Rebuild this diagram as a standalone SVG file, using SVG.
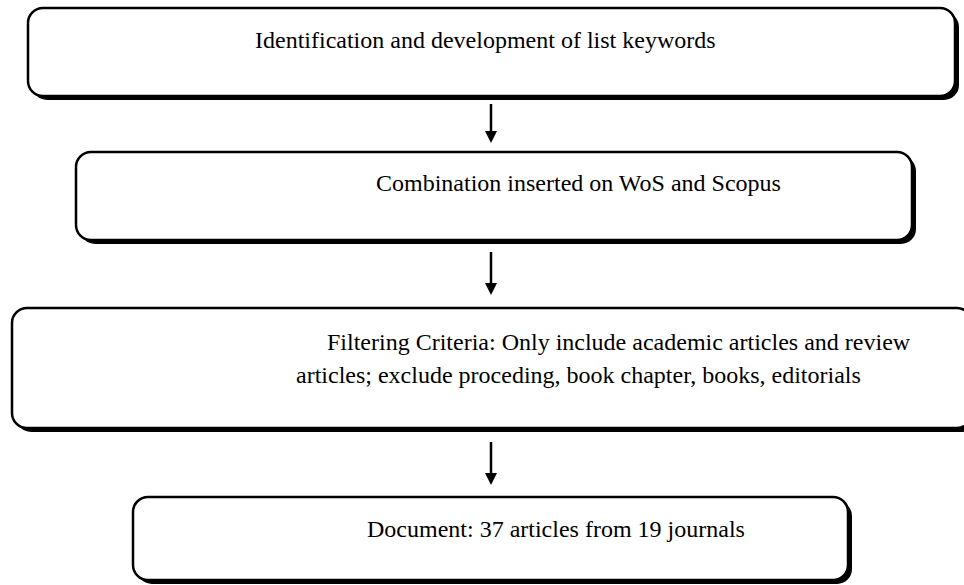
<svg xmlns="http://www.w3.org/2000/svg" width="964" height="585" viewBox="0 0 964 585">
<style>
.sh{fill:#000}
.bx{fill:#fff;stroke:#000;stroke-width:2.5}
.t{font-family:"Liberation Serif","Times New Roman",serif;font-size:24px;fill:#000}
.c{stroke:#000;stroke-width:2.5;fill:none}
.ah{fill:#000}
</style>
<rect width="964" height="585" fill="#fff"/>
<g id="node1">
<rect class="sh" x="32" y="12" width="927" height="88" rx="15"/>
<rect class="bx" x="28" y="8" width="927" height="88" rx="15"/>
<text class="t" x="255" y="48">Identification and development of list keywords</text>
</g>
<g id="node2">
<rect class="sh" x="80" y="156" width="836" height="88" rx="15"/>
<rect class="bx" x="76" y="152" width="836" height="88" rx="15"/>
<text class="t" x="376" y="191">Combination inserted on WoS and Scopus</text>
</g>
<g id="node3">
<rect class="sh" x="16" y="312" width="960" height="120" rx="15"/>
<rect class="bx" x="12" y="308" width="960" height="120" rx="15"/>
<text class="t" x="327" y="350">Filtering Criteria: Only include academic articles and review</text>
<text class="t" x="296" y="383">articles; exclude proceding, book chapter, books, editorials</text>
</g>
<g id="node4">
<rect class="sh" x="137" y="501" width="715" height="83" rx="15"/>
<rect class="bx" x="133" y="497" width="715" height="83" rx="15"/>
<text class="t" x="367" y="537">Document: 37 articles from 19 journals</text>
</g>
<g id="connectors">
<line class="c" x1="491" y1="104" x2="491" y2="132"/>
<polygon class="ah" points="485,131 497,131 491,143"/>
<line class="c" x1="491" y1="252" x2="491" y2="284"/>
<polygon class="ah" points="485,283 497,283 491,295"/>
<line class="c" x1="491" y1="442" x2="491" y2="474"/>
<polygon class="ah" points="485,473 497,473 491,485"/>
</g>
</svg>
